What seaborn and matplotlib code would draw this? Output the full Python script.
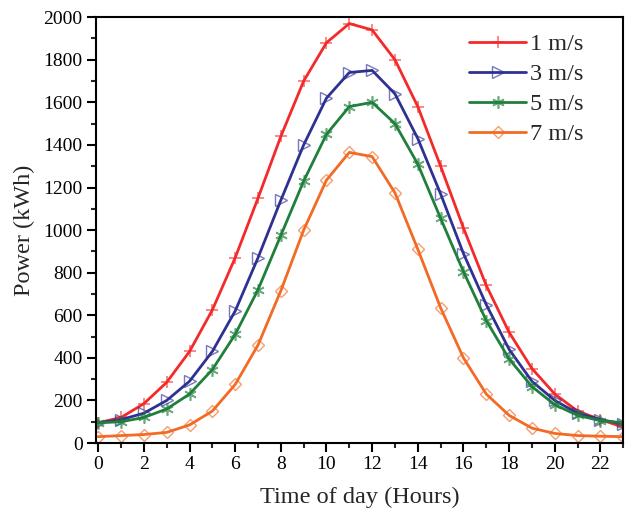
import numpy as np
import pandas as pd
import matplotlib
matplotlib.use("Agg")
import matplotlib.pyplot as plt
import seaborn as sns

hours = list(range(24))
p1 = [95, 120, 185, 285, 430, 625, 870, 1150, 1440, 1700, 1880, 1970, 1940, 1800, 1580, 1300, 1010, 740, 520, 350, 230, 150, 110, 75]
p3 = [95, 110, 140, 200, 290, 430, 620, 870, 1140, 1400, 1620, 1740, 1750, 1640, 1430, 1170, 890, 650, 440, 290, 200, 140, 110, 90]
p5 = [95, 100, 120, 160, 230, 345, 510, 720, 975, 1230, 1450, 1580, 1600, 1500, 1310, 1055, 805, 575, 395, 265, 180, 130, 105, 95]
p7 = [30, 35, 40, 50, 85, 150, 275, 460, 715, 1000, 1235, 1365, 1345, 1175, 910, 635, 400, 230, 130, 70, 45, 35, 32, 30]
labels = ["1 m/s", "3 m/s", "5 m/s", "7 m/s"]

sns.set_style("ticks")
plt.rcParams['font.family'] = ['Liberation Serif', 'DejaVu Serif']

fig = plt.figure(figsize=(6.27, 5.2), dpi=100)
ax = fig.add_axes([0.153, 0.148, 0.841, 0.819])

series = [p1, p3, p5, p7]
colors = ["#F42A2A", "#2E3192", "#1F7F3B", "#F26A24"]
markers = ["+", ">", (6, 2, 0), "D"]
msizes = [9, 8, 9, 6.5]

for vals, lab, c, m, ms in zip(series, labels, colors, markers, msizes):
    df = pd.DataFrame({"Hour": hours, "Power": vals})
    filled = m in (">", "D")
    sns.lineplot(data=df, x="Hour", y="Power", ax=ax, color=c, lw=2.0,
                 marker=m, markersize=ms,
                 markerfacecolor="none" if filled else c,
                 markeredgecolor=matplotlib.colors.to_rgba(c, 0.65),
                 markeredgewidth=1.0 if filled else 1.2,
                 label=lab)

ax.set_xlim(-0.1, 23)
ax.set_ylim(0, 2000)
ax.set_xticks(range(0, 23, 2))
ax.set_xticks(range(1, 24, 2), minor=True)
ax.set_yticks(range(0, 2001, 200))
ax.set_yticks(range(100, 2000, 200), minor=True)
ax.tick_params(axis='both', which='major', direction='out', length=6.5, width=1.5,
               labelsize=14, colors='black', pad=3)
ax.tick_params(axis='both', which='minor', direction='out', length=3.6, width=1.5)
for s in ax.spines.values():
    s.set_linewidth(1.5)
    s.set_color('black')
ax.set_xlabel("Time of day (Hours)", fontsize=17.5, labelpad=10)
ax.set_ylabel("Power (kWh)", fontsize=17.5, labelpad=6)

leg = ax.legend(loc="upper right", frameon=False, fontsize=17.5, handlelength=2.35,
                handletextpad=0.15, labelspacing=0.33, borderaxespad=0.0,
                bbox_to_anchor=(0.943, 0.985))

fig.savefig("out.png", dpi=100)
